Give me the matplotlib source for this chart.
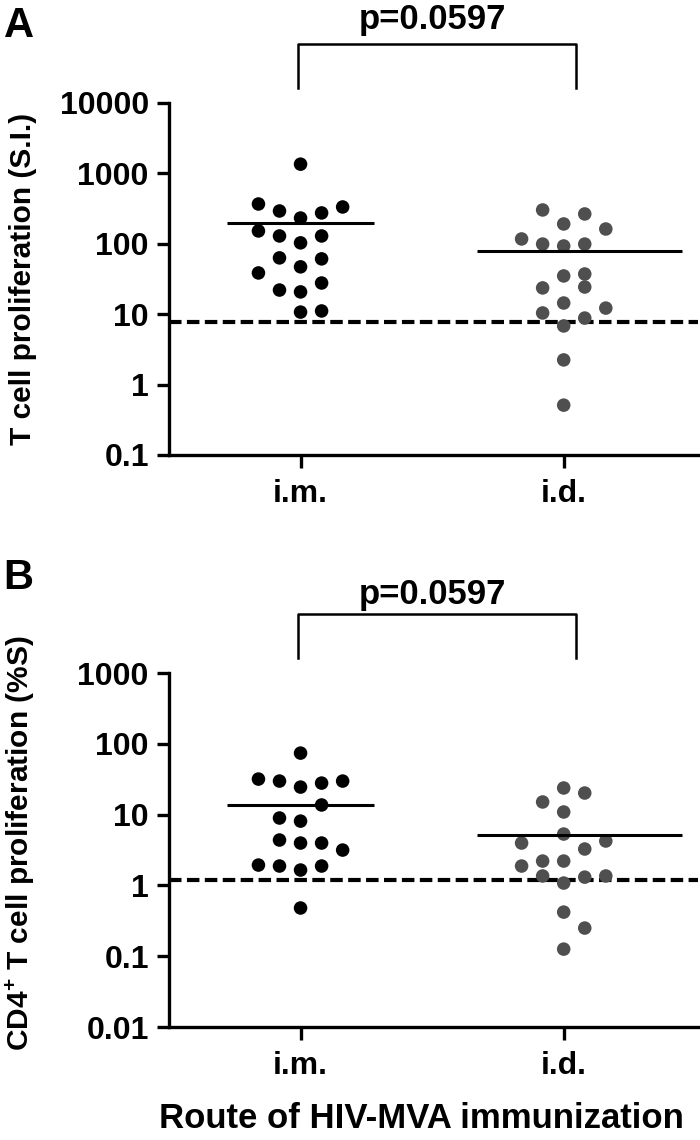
import numpy as np
import matplotlib.pyplot as plt
import matplotlib.transforms as mtransforms

plt.rcParams['font.family'] = ['Liberation Sans', 'DejaVu Sans']
plt.rcParams['font.weight'] = 'bold'
plt.rcParams['axes.labelweight'] = 'bold'
plt.rcParams['mathtext.fontset'] = 'custom'
plt.rcParams['mathtext.rm'] = 'Liberation Sans:bold'
plt.rcParams['mathtext.bf'] = 'Liberation Sans:bold'

groups = ['i.m.', 'i.d.']

# Panel A: T cell proliferation (S.I.)
a_im = [1350, 367, 292, 232, 274, 333, 152, 129, 103, 129,
        63, 47, 61, 38.5, 22, 20.7, 27.7, 10.7, 11.1]
a_im_slot = [0, -2, -1, 0, 1, 2, -2, -1, 0, 1,
             -1, 0, 1, -2, -1, 0, 1, 0, 1]
a_id = [302, 265, 191, 162, 117, 99, 93, 99, 34.9, 37.2,
        24.3, 23.6, 14.4, 10.4, 12.2, 8.8, 6.8, 2.24, 0.51]
a_id_slot = [-1, 1, 0, 2, -2, -1, 0, 1, 0, 1,
             1, -1, 0, -1, 2, 1, 0, 0, 0]
a_means = [195, 79]
a_cutoff = 7.7

# Panel B: CD4+ T cell proliferation (%S)
b_im = [74, 31.8, 29.8, 24.5, 27.9, 29.8, 13.7, 8.96, 8.1, 4.38,
        3.97, 3.97, 3.16, 1.94, 1.88, 1.88, 1.65, 0.48]
b_im_slot = [0, -2, -1, 0, 1, 2, 1, -1, 0, -1,
             0, 1, 2, -2, -1, 1, 0, 0]
b_id = [23.8, 20.2, 15.1, 10.9, 5.32, 3.97, 4.24, 3.27, 1.88, 2.21,
        2.21, 1.36, 1.31, 1.36, 1.08, 0.42, 0.25, 0.126]
b_id_slot = [0, 1, -1, 0, 0, -2, 2, 1, -2, -1,
             0, -1, 1, 2, 0, 0, 1, 0]
b_means = [13.7, 5.15]
b_cutoff = 1.19

p_text = 'p=0.0597'

colors = ['#000000', '#4f4f4f']
slot_w = 0.08
mean_span = [(-0.28, 0.28), (-0.33, 0.45)]

fig = plt.figure(figsize=(7, 11.4), dpi=100)
axA = fig.add_axes([0.2414, 0.6009, 0.7556, 0.3088])
axB = fig.add_axes([0.2414, 0.0991, 0.7556, 0.3105])


def draw_panel(ax, im, im_slot, idd, id_slot, means, cutoff, ylim, yticks,
               ylabel, label_y, p_y):
    for i, (vals, slots) in enumerate([(im, im_slot), (idd, id_slot)]):
        x = i + slot_w * np.array(slots)
        ax.scatter(x, vals, s=95, color=colors[i], edgecolors='none', zorder=3)
        lo, hi = mean_span[i]
        ax.plot([i + lo, i + hi], [means[i], means[i]], color='black', lw=2.2, zorder=4,
                solid_capstyle='butt')
    ax.axhline(cutoff, color='black', lw=3, ls=(0, (3, 1.3)), zorder=2)
    ax.set_yscale('log')
    ax.set_ylim(*ylim)
    ax.set_xlim(-0.5, 1.51)
    ax.set_yticks(yticks)
    ax.set_yticklabels([('%g' % t) for t in yticks])
    ax.minorticks_off()
    ax.set_xticks([0, 1])
    ax.set_xticklabels(groups)
    for s in ['top', 'right']:
        ax.spines[s].set_visible(False)
    for s in ['left', 'bottom']:
        ax.spines[s].set_linewidth(2.4)
    ax.tick_params(axis='y', length=8.5, width=2.4, labelsize=23, pad=6)
    ax.tick_params(axis='x', length=9, width=2.4, labelsize=23, pad=8)
    ax.set_ylabel(ylabel, fontsize=21.5)
    ax.yaxis.set_label_coords(-0.25, label_y)

    # significance bracket
    tr = mtransforms.blended_transform_factory(ax.transData, ax.transAxes)
    ax.plot([-0.01, -0.01, 1.045, 1.045], [1.043, 1.168, 1.168, 1.043],
            color='black', lw=1.8, transform=tr, clip_on=False)
    ax.text(0.5, p_y, p_text, transform=tr, ha='center', va='bottom', fontsize=25)


draw_panel(axA, a_im, a_im_slot, a_id, a_id_slot, a_means, a_cutoff,
           (0.1, 10000), [0.1, 1, 10, 100, 1000, 10000],
           'T cell proliferation (S.I.)', 0.5, 1.19)
draw_panel(axB, b_im, b_im_slot, b_id, b_id_slot, b_means, b_cutoff,
           (0.01, 1000), [0.01, 0.1, 1, 10, 100, 1000],
           r'CD4$^{+}$ T cell proliferation (%S)', 0.52, 1.175)

axB.set_xlabel('Route of HIV-MVA immunization', fontsize=25)
axB.xaxis.set_label_coords(0.478, -0.212)

fig.text(0.005, 0.995, 'A', fontsize=30, ha='left', va='top')
fig.text(0.005, 1 - 558 / 1140, 'B', fontsize=30, ha='left', va='top')

fig.savefig('out.png', dpi=100)
